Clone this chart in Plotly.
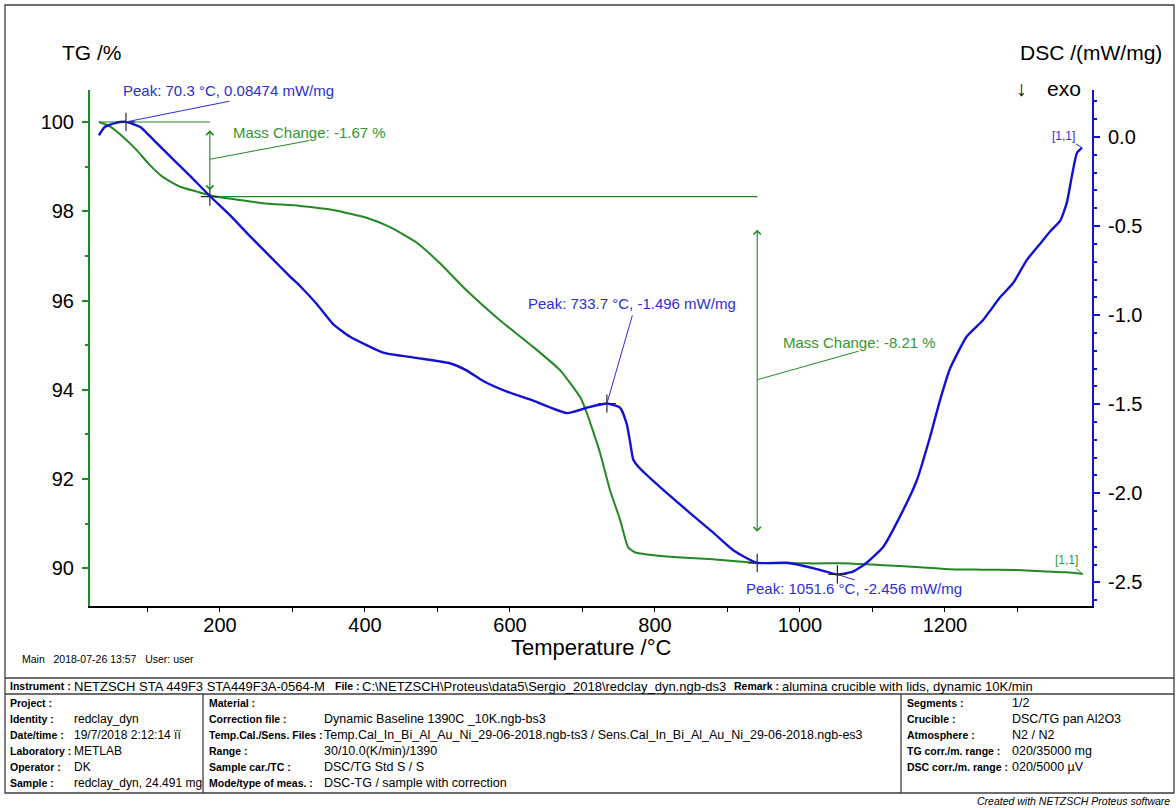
import plotly.graph_objects as go

W, H = 1176, 808
FONT = "Liberation Sans, Arial, sans-serif"
GREEN = "rgb(34,136,34)"
GREEN_TXT = "rgb(50,150,50)"
BLUE = "rgb(18,18,210)"
BLUE_TXT = "rgb(45,45,215)"
INK = "rgb(40,40,40)"

# ---- measured curves -------------------------------------------------------
tg_temp = [33, 48, 66, 85, 103, 121, 145, 168, 190, 228, 259, 310, 356, 403,
           434, 472, 503, 540, 586, 632, 669, 697, 706, 715, 724, 738, 752,
           763, 772, 789, 830, 880, 941, 1018, 1069, 1115, 1160, 1207, 1250,
           1299, 1340, 1368, 1390]
tg_mass = [100.0, 99.9, 99.67, 99.37, 99.04, 98.77, 98.55, 98.44, 98.34,
           98.25, 98.18, 98.12, 98.03, 97.85, 97.65, 97.29, 96.84, 96.23,
           95.56, 94.96, 94.44, 93.83, 93.48, 93.05, 92.6, 91.75, 91.08,
           90.47, 90.36, 90.31, 90.25, 90.2, 90.12, 90.11, 90.11, 90.07,
           90.03, 89.98, 89.97, 89.96, 89.93, 89.91, 89.87]

dsc_temp = [33, 41, 55, 70.3, 90, 103, 117, 135, 159, 186, 214, 241, 269,
            297, 310, 334, 356, 379, 425, 471, 517, 540, 563, 596, 632, 679,
            706, 733.7, 752, 761, 766, 770, 779, 811, 848, 880, 908, 940, 982,
            1018, 1051.6, 1073, 1092, 1115, 1138, 1161, 1179, 1193, 1207,
            1230, 1252, 1276, 1294, 1313, 1331, 1345, 1359, 1368, 1375, 1382,
            1389]
dsc_val = [0.01, 0.056, 0.078, 0.08474, 0.056, 0.006, -0.051, -0.124, -0.219,
           -0.331, -0.44, -0.555, -0.67, -0.785, -0.835, -0.94, -1.05, -1.12,
           -1.21, -1.24, -1.27, -1.31, -1.37, -1.43, -1.48, -1.55, -1.52,
           -1.496, -1.52, -1.61, -1.72, -1.81, -1.86, -1.98, -2.11, -2.22,
           -2.32, -2.39, -2.39, -2.42, -2.456, -2.44, -2.39, -2.30, -2.13,
           -1.93, -1.69, -1.48, -1.30, -1.12, -1.03, -0.90, -0.82, -0.69,
           -0.60, -0.53, -0.47, -0.37, -0.22, -0.09, -0.06]

# ---- evaluation results ----------------------------------------------------
peak_temp = [70.3, 733.7, 1051.6]
peak_dsc = [0.08474, -1.496, -2.456]

step_temp = [33, 186, 941]
step_mass = [100.0, 98.33, 90.12]
mass_change = [-1.67, -8.21]

# ---- axis ticks ------------------------------------------------------------
x_ticks = [200, 400, 600, 800, 1000, 1200]
x_minor = [100, 300, 500, 700, 900, 1100, 1300]
tg_ticks = [90, 92, 94, 96, 98, 100]
tg_minor = [91, 93, 95, 97, 99]
dsc_ticks = [0.0, -0.5, -1.0, -1.5, -2.0, -2.5]
dsc_minor = [round(0.2 - 0.1 * i, 1) for i in range(29)]

# ---- report header fields --------------------------------------------------
header_labels = ["Instrument :", "File :", "Remark :"]
header_values = ["NETZSCH STA 449F3 STA449F3A-0564-M",
                 r"C:\NETZSCH\Proteus\data5\Sergio_2018\redclay_dyn.ngb-ds3",
                 "alumina crucible with lids, dynamic 10K/min"]
col1_labels = ["Project :", "Identity :", "Date/time :", "Laboratory :",
               "Operator :", "Sample :"]
col1_values = ["", "redclay_dyn", "19/7/2018 2:12:14 ïï", "METLAB", "DK",
               "redclay_dyn, 24.491 mg"]
col2_labels = ["Material :", "Correction file :", "Temp.Cal./Sens. Files :",
               "Range :", "Sample car./TC :", "Mode/type of meas. :"]
col2_values = ["", "Dynamic Baseline 1390C _10K.ngb-bs3",
               "Temp.Cal_In_Bi_Al_Au_Ni_29-06-2018.ngb-ts3 / "
               "Sens.Cal_In_Bi_Al_Au_Ni_29-06-2018.ngb-es3",
               "30/10.0(K/min)/1390", "DSC/TG Std S / S",
               "DSC-TG / sample with correction"]
col3_labels = ["Segments :", "Crucible :", "Atmosphere :", "TG corr./m. range :",
               "DSC corr./m. range :"]
col3_values = ["1/2", "DSC/TG pan Al2O3", "N2 / N2", "020/35000 mg",
               "020/5000 µV"]

# plot rectangle in page pixels
PL, PR, PT, PB = 90, 1092, 90, 606


def fx(px):
    return px / W


def fy(py):
    return 1 - py / H


fig = go.Figure()

fig.add_trace(go.Scatter(
    x=tg_temp, y=tg_mass, mode="lines", yaxis="y", hoverinfo="skip",
    line=dict(color=GREEN, width=2, shape="spline", smoothing=0.5)))
fig.add_trace(go.Scatter(
    x=dsc_temp, y=dsc_val, mode="lines", yaxis="y2", hoverinfo="skip",
    line=dict(color=BLUE, width=2.4, shape="spline", smoothing=0.5)))

# mass-step reference levels
for i in range(len(mass_change)):
    fig.add_trace(go.Scatter(
        x=[step_temp[i], step_temp[i + 1]], y=[step_mass[i], step_mass[i]],
        mode="lines", yaxis="y", hoverinfo="skip",
        line=dict(color=GREEN, width=1.2)))

# evaluation crosses
fig.add_trace(go.Scatter(
    x=peak_temp, y=peak_dsc, mode="markers", yaxis="y2", hoverinfo="skip",
    marker=dict(symbol="cross-thin", size=13, line=dict(width=1.2, color=INK))))
fig.add_trace(go.Scatter(
    x=step_temp[1:], y=step_mass[1:], mode="markers", yaxis="y", hoverinfo="skip",
    marker=dict(symbol="cross-thin", size=13, line=dict(width=1.2, color=INK))))

ann = []


def leader(xv, yv, yref, dx, dy, color):
    return dict(x=xv, y=yv, xref="x", yref=yref, text=" ", showarrow=True,
                arrowhead=0, arrowwidth=1, arrowcolor=color, ax=dx, ay=dy,
                font=dict(size=1))


def label(xv, yv, yref, text, xshift, yshift, color, size=15):
    return dict(x=xv, y=yv, xref="x", yref=yref, text=text, showarrow=False,
                xanchor="left", yanchor="middle", xshift=xshift, yshift=yshift,
                font=dict(family=FONT, size=size, color=color))


# peak labels
peak_label_pos = [(-5, 31), (-81, 100), (-93, -14)]
peak_leader_pos = [(105, -21), (26, -90), (19, 6)]
for t, v, (sx, sy), (lx, ly) in zip(peak_temp, peak_dsc, peak_label_pos,
                                    peak_leader_pos):
    ann.append(leader(t, v, "y2", lx, ly, BLUE_TXT))
    ann.append(label(t, v, "y2", f"Peak: {t:.1f} °C, {v:.4g} mW/mg",
                     sx, sy, BLUE_TXT))

# mass change arrows and labels
mc_label_pos = [(21, 27), (24, 37)]
mc_leader_pos = [(101, -19), (103, -29)]
for i, mc in enumerate(mass_change):
    top, bot = step_mass[i], step_mass[i + 1]
    inset = 0.085 * abs(mc)
    t = step_temp[i + 1]
    ann.append(dict(x=t, y=bot + inset, xref="x", yref="y", ax=t, ay=top - inset,
                    axref="x", ayref="y", text=" ", showarrow=True,
                    arrowhead=4, startarrowhead=4, arrowside="end+start",
                    arrowsize=1.3, startarrowsize=1.3, arrowwidth=1.1,
                    arrowcolor=GREEN, font=dict(size=1)))
    mid = (top + bot) / 2
    ann.append(leader(t, mid, "y", mc_leader_pos[i][0], mc_leader_pos[i][1], GREEN))
    ann.append(label(t, mid, "y", f"Mass Change: {mc:.2f} %",
                     mc_label_pos[i][0], mc_label_pos[i][1], GREEN_TXT))

# segment end markers
ann.append(dict(x=dsc_temp[-1], y=dsc_val[-1], xref="x", yref="y2", text="[1,1]",
                showarrow=True, arrowhead=0, arrowwidth=1, arrowcolor=BLUE_TXT,
                ax=-19, ay=-12, font=dict(family=FONT, size=12, color=BLUE_TXT)))
ann.append(dict(x=tg_temp[-1], y=tg_mass[-1], xref="x", yref="y", text="[1,1]",
                showarrow=True, arrowhead=0, arrowwidth=1, arrowcolor=GREEN_TXT,
                ax=-16, ay=-14, font=dict(family=FONT, size=12, color=GREEN_TXT)))


def page_text(px, py, text, size, color="black", xanchor="left", bold=False):
    if bold:
        text = f"<b>{text}</b>"
    return dict(x=fx(px), y=fy(py), xref="paper", yref="paper", text=text,
                showarrow=False, xanchor=xanchor, yanchor="middle",
                font=dict(family=FONT, size=size, color=color))


# axis titles
ann.append(page_text(60, 53, "TG /%", 21))
ann.append(page_text(1018, 53, "DSC /(mW/mg)", 21))
ann.append(page_text(1014, 89, "↓", 21))
ann.append(page_text(1045, 89, "exo", 21))
ann.append(page_text(591, 647, "Temperature /°C", 22, xanchor="center"))

# report footer
LAB = 10.5   # bold field names
VAL = 12.5   # field values
ann.append(page_text(20, 659, "Main&nbsp;&nbsp;&nbsp;2018-07-26 13:57&nbsp;&nbsp;&nbsp;User: user", 10.5))

header_label_x = [8, 333, 732]
header_value_x = [72, 360, 780]
for lab, val, lx, vx in zip(header_labels, header_values, header_label_x,
                            header_value_x):
    ann.append(page_text(lx, 686, lab, LAB, bold=True))
    ann.append(page_text(vx, 686, val, 13))

row_y = [703, 719, 735, 751, 767, 783]
for i, y in enumerate(row_y):
    ann.append(page_text(8, y, col1_labels[i], LAB, bold=True))
    if col1_values[i]:
        ann.append(page_text(72, y, col1_values[i], 12))
    ann.append(page_text(207, y, col2_labels[i], LAB, bold=True))
    if col2_values[i]:
        ann.append(page_text(322, y, col2_values[i], VAL))
    if i < len(col3_labels):
        ann.append(page_text(905, y, col3_labels[i], LAB, bold=True))
        ann.append(page_text(1010, y, col3_values[i], VAL))
ann.append(dict(x=fx(1172), y=fy(801), xref="paper", yref="paper",
                text="<i>Created with NETZSCH Proteus software</i>",
                showarrow=False, xanchor="right", yanchor="middle",
                font=dict(family=FONT, size=10.5, color="black")))

line_style = dict(color="rgb(60,60,60)", width=1.3)
shapes = [
    dict(type="rect", xref="paper", yref="paper", x0=fx(5), x1=fx(1174),
         y0=fy(793), y1=fy(5), line=line_style),
    dict(type="line", xref="paper", yref="paper", x0=fx(5), x1=fx(1174),
         y0=fy(678), y1=fy(678), line=line_style),
    dict(type="line", xref="paper", yref="paper", x0=fx(5), x1=fx(1174),
         y0=fy(694), y1=fy(694), line=line_style),
    dict(type="line", xref="paper", yref="paper", x0=fx(203), x1=fx(203),
         y0=fy(694), y1=fy(793), line=line_style),
    dict(type="line", xref="paper", yref="paper", x0=fx(901), x1=fx(901),
         y0=fy(694), y1=fy(793), line=line_style),
]

tick_font = dict(family=FONT, size=20, color="black")
fig.update_layout(
    width=W, height=H, autosize=False,
    margin=dict(l=0, r=0, t=0, b=0),
    paper_bgcolor="white", plot_bgcolor="white",
    showlegend=False,
    font=dict(family=FONT),
    xaxis=dict(domain=[fx(PL), fx(PR)], range=[20.7, 1402.8], anchor="y",
               showline=True, linecolor="black", linewidth=1.5,
               ticks="outside", ticklen=4, tickcolor="black", tickwidth=1,
               tickvals=x_ticks, ticktext=[str(v) for v in x_ticks],
               tickfont=tick_font, ticklabelstandoff=-4,
               showgrid=False, zeroline=False,
               minor=dict(tickvals=x_minor, ticks="outside", ticklen=4,
                          tickcolor="black")),
    yaxis=dict(domain=[fy(PB), fy(PT)], range=[89.155, 100.717], anchor="x",
               showline=True, linecolor=GREEN, linewidth=2,
               ticks="outside", ticklen=6, tickcolor=GREEN, tickwidth=1.5,
               tickvals=tg_ticks, ticktext=[str(v) for v in tg_ticks],
               tickfont=tick_font, ticklabelstandoff=4,
               showgrid=False, zeroline=False,
               minor=dict(tickvals=tg_minor, ticks="outside", ticklen=3,
                          tickcolor=GREEN)),
    yaxis2=dict(overlaying="y", side="right", anchor="x",
                range=[-2.633, 0.264],
                showline=True, linecolor=BLUE, linewidth=2,
                ticks="outside", ticklen=6, tickcolor=BLUE, tickwidth=1.5,
                tickvals=dsc_ticks, ticktext=[f"{v:.1f}" for v in dsc_ticks],
                tickfont=tick_font, ticklabelstandoff=4,
                showgrid=False, zeroline=False,
                minor=dict(tickvals=dsc_minor, ticks="outside", ticklen=3,
                           tickcolor=BLUE)),
    annotations=ann,
    shapes=shapes,
)

fig.write_html("out.html", config={"displayModeBar": False})
